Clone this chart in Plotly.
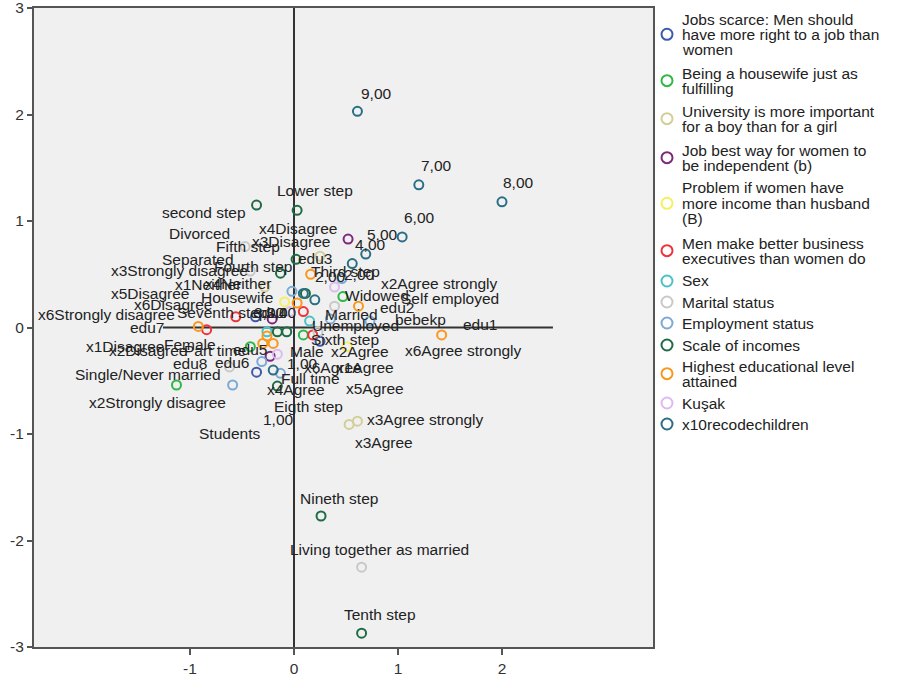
import plotly.graph_objects as go

# ---------------- data (dimension 1, dimension 2) ----------------
jobs_cats = ["x1Neither", "x1Disagree", "x1Agree"]
jobs_d1 = [-0.37, -0.36, 0.25]
jobs_d2 = [0.10, -0.42, -0.13]

housewife_cats = ["x2Strongly disagree", "x2Disagree", "x2Agree", "x2Agree strongly"]
housewife_d1 = [-1.13, -0.42, 0.09, 0.47]
housewife_d2 = [-0.54, -0.18, -0.07, 0.29]

univ_cats = ["x3Strongly disagree", "x3Disagree", "x3Agree", "x3Agree strongly"]
univ_d1 = [-0.28, 0.25, 0.53, 0.61]
univ_d2 = [0.38, 0.67, -0.91, -0.88]

jobbest_cats = ["x4Disagree", "x4Neither", "x4Agree"]
jobbest_d1 = [0.52, -0.21, -0.23]
jobbest_d2 = [0.83, 0.08, -0.27]

income_cats = ["x5Disagree", "x5Agree"]
income_d1 = [-0.09, 0.51]
income_d2 = [0.24, -0.18]

business_cats = ["x6Disagree", "x6Strongly disagree", "x6Agree strongly", "x6Agree"]
business_d1 = [-0.56, -0.84, 0.09, 0.18]
business_d2 = [0.10, -0.02, 0.15, -0.07]

sex_cats = ["Female", "Male"]
sex_d1 = [-0.26, 0.15]
sex_d2 = [-0.04, 0.06]

marital_cats = ["Divorced", "Separated", "Single/Never married", "Widowed", "Married",
                "Living together as married"]
marital_d1 = [-0.47, -0.42, -0.62, 0.39, 0.23, 0.65]
marital_d2 = [0.76, 0.53, -0.37, 0.20, -0.04, -2.25]

employ_cats = ["Housewife", "Part time", "Full time", "Students", "Unemployed",
               "Self employed", "bebekp"]
employ_d1 = [-0.02, -0.31, -0.13, -0.59, 0.35, 0.46, 0.73]
employ_d2 = [0.34, -0.32, -0.43, -0.54, 0.08, 0.46, 0.06]

scale_cats = ["second step", "Lower step", "Third step", "Fourth step", "Fifth step",
              "Sixth step", "Seventh step", "Eigth step", "Nineth step", "Tenth step"]
scale_d1 = [-0.36, 0.03, 0.11, -0.13, 0.02, -0.07, -0.16, -0.16, 0.26, 0.65]
scale_d2 = [1.15, 1.10, 0.32, 0.51, 0.64, -0.04, -0.04, -0.55, -1.77, -2.87]

edu_cats = ["edu1", "edu2", "edu3", "edu4", "edu5", "edu6", "edu7", "edu8"]
edu_d1 = [1.42, 0.62, 0.16, 0.03, -0.26, -0.20, -0.92, -0.30]
edu_d2 = [-0.07, 0.20, 0.50, 0.23, -0.08, -0.15, 0.01, -0.15]

kusak_cats = ["1,00", "2,00", "3,00"]
kusak_d1 = [-0.16, 0.39, -0.04]
kusak_d2 = [-0.25, 0.38, 0.15]

children_cats = ["1,00", "2,00", "3,00", "4,00", "5,00", "6,00", "7,00", "8,00", "9,00"]
children_d1 = [-0.20, 0.09, 0.20, 0.56, 0.69, 1.04, 1.20, 2.00, 0.61]
children_d2 = [-0.40, 0.32, 0.26, 0.60, 0.69, 0.85, 1.34, 1.18, 2.03]

legend_names = [
    "Jobs scarce: Men should\nhave more right to a job than\nwomen",
    "Being a housewife just as\nfulfilling",
    "University is more important\nfor a boy than for a girl",
    "Job best way for women to\nbe independent (b)",
    "Problem if women have\nmore income than husband\n(B)",
    "Men make better business\nexecutives than women do",
    "Sex",
    "Marital status",
    "Employment status",
    "Scale of incomes",
    "Highest educational level\nattained",
    "Kuşak",
    "x10recodechildren",
]

series = [
    (jobs_cats, jobs_d1, jobs_d2),
    (housewife_cats, housewife_d1, housewife_d2),
    (univ_cats, univ_d1, univ_d2),
    (jobbest_cats, jobbest_d1, jobbest_d2),
    (income_cats, income_d1, income_d2),
    (business_cats, business_d1, business_d2),
    (sex_cats, sex_d1, sex_d2),
    (marital_cats, marital_d1, marital_d2),
    (employ_cats, employ_d1, employ_d2),
    (scale_cats, scale_d1, scale_d2),
    (edu_cats, edu_d1, edu_d2),
    (kusak_cats, kusak_d1, kusak_d2),
    (children_cats, children_d1, children_d2),
]

# ---------------- styles ----------------
colors = ["#3E58AC", "#2EB848", "#D3CE97", "#7C287D", "#F5F060", "#EF3338", "#48C2C5",
          "#C8C8C8", "#7AAAD5", "#1F6B45", "#F8981D", "#DDBAF1", "#2A6E86"]

# label offsets from their point, in pixels (dx right, dy up)
label_shifts = [
    [(-48, 32), (-132, 26), (45, -26)],
    [(-19, -17), (-102, -4), (57, -17), (97, 13)],
    [(-85, 17), (-29, 15), (35, -18), (68, 2)],
    [(-50, 11), (-34, 35), (26, -33)],
    [(-135, 8), (28, -42)],
    [(-63, 12), (-100, 15), (160, -39), (20, -33)],
    [(-77, -13), (-3, -30)],
    [(-46, 13), (-52, 12), (-82, -8), (42, 11), (34, 17), (18, 18)],
    [(-55, -6), (-47, 11), (30, -5), (-3, -48), (25, -7), (108, -20), (51, 2)],
    [(-53, -7), (18, 20), (40, 22), (-27, 7), (-48, 13), (58, -8), (-55, 19), (31, -20),
     (18, 18), (18, 19)],
    [(38, 10), (39, -1), (4, 16), (-27, -9), (-17, -13), (-41, -19), (-51, -1), (-73, -20)],
    [(25, -9), (25, 13), (-8, -1)],
    [(5, -49), (27, 17), (-45, -13), (18, 19), (17, 20), (17, 19), (18, 19), (17, 19), (19, 18)],
]

FONT = "Liberation Sans, Arial, sans-serif"
TXT = "#222222"
FS = 15.5

fig = go.Figure()

annotations = []
for (cats, d1, d2), col, name, shifts in zip(series, colors, legend_names, label_shifts):
    fig.add_trace(go.Scatter(
        x=d1, y=d2, mode="markers", name=name.replace("\n", " "),
        showlegend=False, hoverinfo="text", text=cats,
        marker=dict(symbol="circle-open", size=9, color=col, line=dict(width=2, color=col)),
    ))
    for c, a, b, (dx, dy) in zip(cats, d1, d2, shifts):
        annotations.append(dict(x=a, y=b, xref="x", yref="y", text=c, showarrow=False,
                                xshift=dx, yshift=dy, xanchor="center", yanchor="middle",
                                font=dict(family=FONT, size=FS, color=TXT)))

# ---------------- layout geometry ----------------
W, H = 902, 681
L, R, T, B = 34, 653, 8, 647  # plot area in pixels
pw, ph = R - L, B - T


def px_x(p):
    return (p - L) / pw


def px_y(p):
    return (B - p) / ph


# custom legend (SPSS style)
legend_first_line = [19, 73, 111, 150, 188, 243, 281, 302, 323, 345, 366, 403, 424]
line_step = 15.3
shapes = []
for name, col, y0 in zip(legend_names, colors, legend_first_line):
    lines = name.split("\n")
    for i, ln in enumerate(lines):
        annotations.append(dict(x=px_x(680), y=px_y(y0 + i * line_step), xref="paper", yref="paper",
                                text=ln, showarrow=False, xanchor="left", yanchor="middle",
                                font=dict(family=FONT, size=FS, color=TXT)))
    cy = y0 + (len(lines) - 1) * line_step / 2
    r = 5.5
    shapes.append(dict(type="circle", xref="paper", yref="paper",
                       x0=px_x(667 - r), x1=px_x(667 + r), y0=px_y(cy + r), y1=px_y(cy - r),
                       line=dict(color=col, width=2), fillcolor="rgba(0,0,0,0)"))

# reference lines at 0
shapes.append(dict(type="line", xref="x", yref="y", x0=0, x1=0, y0=-3, y1=3,
                   line=dict(color="#333333", width=2), layer="below"))
shapes.append(dict(type="line", xref="x", yref="y", x0=-1.26, x1=2.49, y0=0, y1=0,
                   line=dict(color="#333333", width=2), layer="below"))

fig.update_layout(
    width=W, height=H,
    margin=dict(l=L, r=W - R, t=T, b=H - B, pad=0, autoexpand=False),
    paper_bgcolor="white",
    plot_bgcolor="#F0F0F0",
    showlegend=False,
    font=dict(family=FONT, size=FS, color=TXT),
    annotations=annotations,
    shapes=shapes,
    xaxis=dict(range=[-2.5, 3.452], tickvals=[-1, 0, 1, 2], ticktext=["-1", "0", "1", "2"],
               automargin=False, ticklabeloverflow="allow",
               showgrid=False, zeroline=False, showline=True, linecolor="#555555", linewidth=2,
               mirror=True, ticks="outside", ticklen=6, tickcolor="#555555", tickwidth=1.5,
               tickfont=dict(family=FONT, size=FS, color="#333333")),
    yaxis=dict(range=[-3, 3], tickvals=[-3, -2, -1, 0, 1, 2, 3],
               ticktext=["-3", "-2", "-1", "0", "1", "2", "3"],
               automargin=False, ticklabeloverflow="allow",
               showgrid=False, zeroline=False, showline=True, linecolor="#555555", linewidth=2,
               mirror=True, ticks="outside", ticklen=5, tickcolor="#555555", tickwidth=1.5,
               tickfont=dict(family=FONT, size=FS, color="#333333")),
)

fig.write_html("out.html", config={"displayModeBar": False},
               post_script="document.body.style.margin='0';document.body.style.overflow='hidden';")
